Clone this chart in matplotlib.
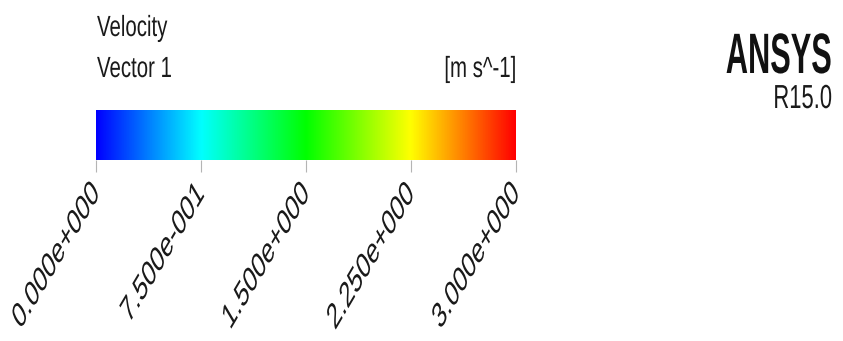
import numpy as np
import matplotlib
matplotlib.use("Agg")
import matplotlib.pyplot as plt
from matplotlib.colors import LinearSegmentedColormap
from matplotlib.patheffects import AbstractPathEffect
from matplotlib.transforms import Affine2D

# ── DATA ──────────────────────────────────
tick_values = [0.0, 0.75, 1.5, 2.25, 3.0]
tick_labels = ["0.000e+000", "7.500e-001", "1.500e+000", "2.250e+000", "3.000e+000"]
cmap_colors = ["#0000ff", "#00ffff", "#00ff00", "#ffff00", "#ff0000"]
title_lines = ["Velocity", "Vector 1"]
unit_label = "[m s^-1]"
logo = "ANSYS"
version = "R15.0"

FONT = ["Liberation Sans", "DejaVu Sans"]
W, H = 843, 341


class Squeeze(AbstractPathEffect):
    """Nén chữ theo chiều ngang quanh điểm neo của Text (giống font narrow)."""

    def __init__(self, text, k):
        super().__init__()
        self.text = text
        self.k = k

    def draw_path(self, renderer, gc, tpath, affine, rgbFace=None):
        px, py = self.text.get_transform().transform(
            self.text.get_unitless_position())
        sq = Affine2D().translate(-px, -py).scale(self.k, 1).translate(px, py)
        renderer.draw_path(gc, tpath, affine + sq, rgbFace)


def squeeze(t, k):
    t.set_path_effects([Squeeze(t, k)])
    return t


fig = plt.figure(figsize=(W / 100, H / 100), dpi=100, facecolor="white")

# ── THANH MÀU ─────────────────────────────
ax = fig.add_axes([96 / W, 1 - 160 / H, 420 / W, 50 / H])
cmap = LinearSegmentedColormap.from_list("ansys", cmap_colors)
grad = np.linspace(tick_values[0], tick_values[-1], 512)[None, :]
ax.imshow(grad, cmap=cmap, aspect="auto",
          extent=[tick_values[0], tick_values[-1], 0, 1])
for s in ax.spines.values():
    s.set_visible(False)
ax.set_yticks([])
ax.set_xticks(tick_values)
ax.set_xticklabels(tick_labels, rotation=45, ha="right", va="center",
                   rotation_mode="anchor", family=FONT, fontsize=26,
                   color="#1a1a1a")
ax.tick_params(axis="x", direction="out", length=8.6, width=0.8,
               color="#b4b4b4", pad=12)
for lab in ax.get_xticklabels():
    squeeze(lab, 0.59)

# ── CHỮ ───────────────────────────────────
kw = dict(family=FONT, fontsize=21, color="#1a1a1a", va="baseline")
squeeze(fig.text(97 / W, 1 - 36 / H, title_lines[0], ha="left", **kw), 0.7)
squeeze(fig.text(97 / W, 1 - 77 / H, title_lines[1], ha="left", **kw), 0.7)
squeeze(fig.text(516 / W, 1 - 77 / H, unit_label, ha="right", **kw), 0.7)
squeeze(fig.text(832 / W, 1 - 73 / H, logo, family=FONT, fontsize=41,
                 fontweight="bold", ha="right", va="baseline",
                 color="#111111"), 0.54)
squeeze(fig.text(832 / W, 1 - 108 / H, version, family=FONT, fontsize=24,
                 ha="right", va="baseline", color="#1a1a1a"), 0.66)

fig.savefig("out.png", dpi=100, facecolor="white")
